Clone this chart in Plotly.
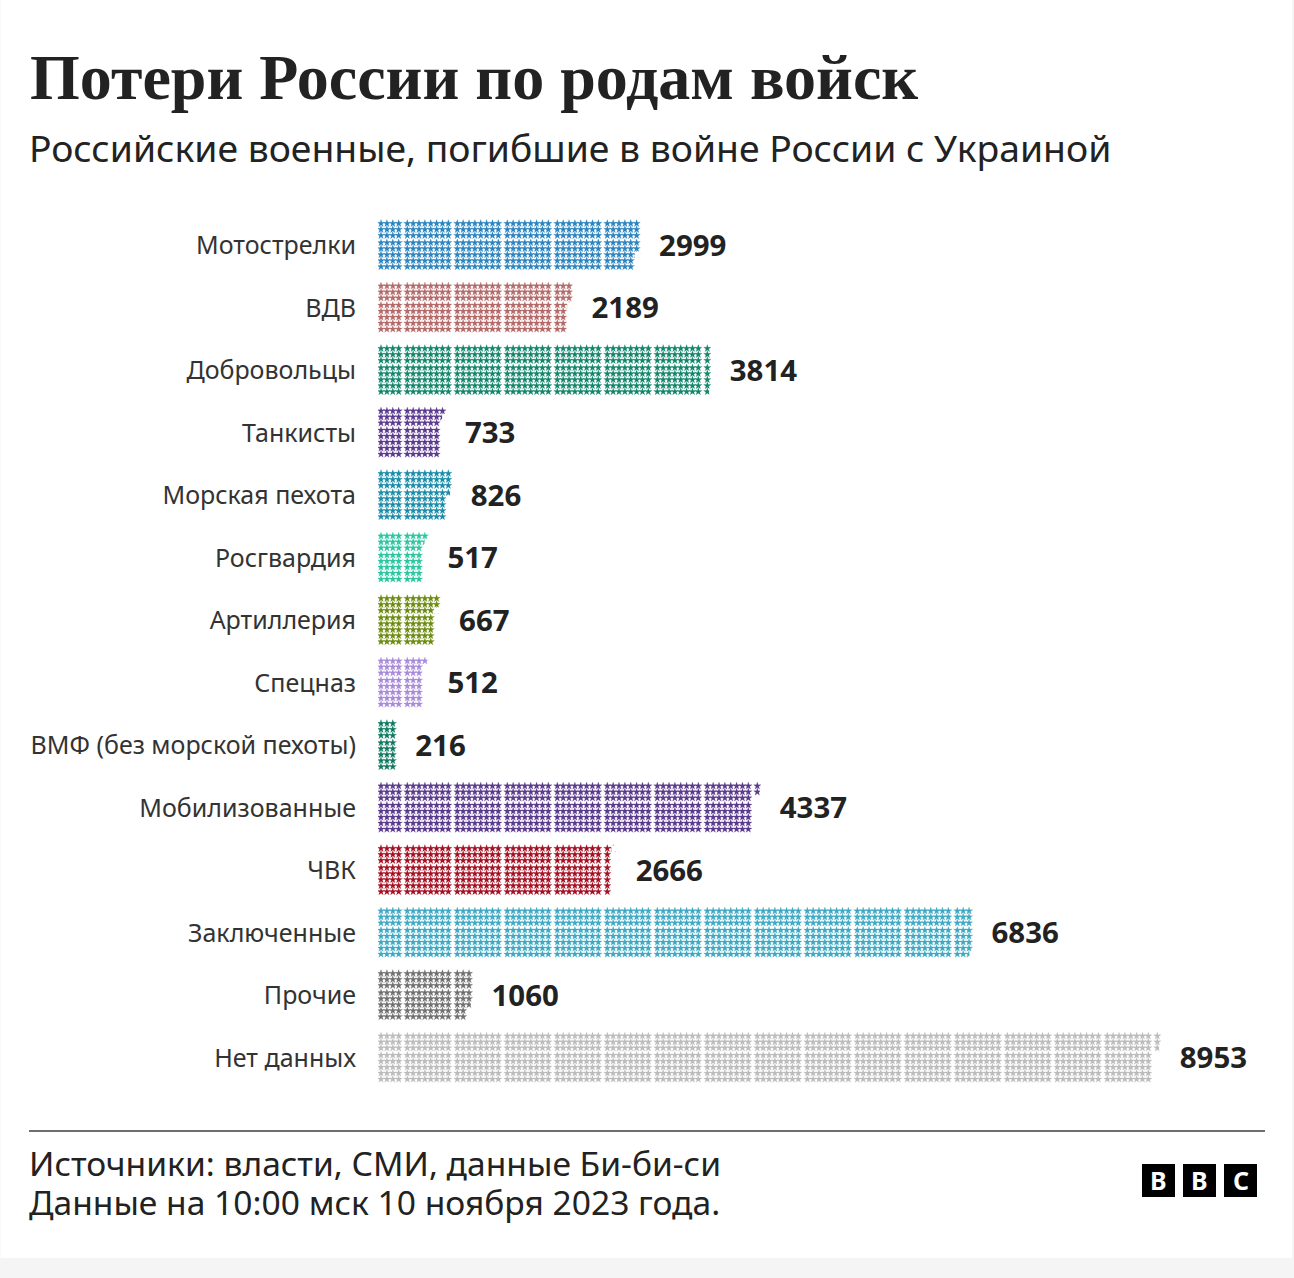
import plotly.graph_objects as go

CATEGORIES = ["Мотострелки", "ВДВ", "Добровольцы", "Танкисты", "Морская пехота", "Росгвардия",
              "Артиллерия", "Спецназ", "ВМФ (без морской пехоты)", "Мобилизованные", "ЧВК",
              "Заключенные", "Прочие", "Нет данных"]
VALUES = [2999, 2189, 3814, 733, 826, 517, 667, 512, 216, 4337, 2666, 6836, 1060, 8953]
COLORS = ["#2b83bf", "#b56a6a", "#12866b", "#5b3a8e", "#1a8ca8", "#2cc5a0", "#6b8a0e",
          "#a98ad9", "#0d7a5f", "#5a3a8c", "#a50f22", "#3fa9c4", "#707070", "#bcbcbc"]
PER_STAR = 9
ROWS = 8

W, H = 1294, 1278
X0 = 378
ROW_OFFSETS = [-22, -16, -10, -2.8, 3.2, 9.2, 15.2, 21.2]
ROW_Y = [245.5 + 62.5 * i for i in range(len(CATEGORIES))]
STAR_W = 6.6


def col_x(c):
    if c < 4:
        return 3 + 5.9 * c
    k = (c - 4) // 8
    j = (c - 4) % 8
    return 29.3 + 50 * k + 5.86 * j


fig = go.Figure()
shapes = [
    dict(type="rect", xref="paper", yref="paper", x0=0.5 / W, x1=1292 / W, y0=1, y1=1 - 1258 / H,
         fillcolor="white", line_width=0, layer="below"),
    dict(type="line", xref="paper", yref="paper", x0=29 / W, x1=1265 / W, y0=1 - 1131 / H, y1=1 - 1131 / H,
         line=dict(color="#6e6e6e", width=2)),
]
for i, (cat, val, col) in enumerate(zip(CATEGORIES, VALUES, COLORS)):
    n = val / PER_STAR
    whole = int(n)
    frac = n - whole
    total = whole + (1 if frac > 0 else 0)
    xs = [col_x(s // ROWS) for s in range(total)]
    ys = [ROW_Y[i] + ROW_OFFSETS[s % ROWS] for s in range(total)]
    fig.add_trace(go.Scatter(x=xs, y=ys, mode="markers", name=cat, showlegend=False, hoverinfo="skip",
                             marker=dict(symbol="star", size=5.6, color=col,
                                         line=dict(width=0.2, color=col))))
    if frac > 0:
        shapes.append(dict(type="rect", xref="x", yref="y", layer="above",
                           x0=xs[-1] - STAR_W / 2 + frac * STAR_W, x1=xs[-1] + STAR_W / 2 + 0.5,
                           y0=ys[-1] - 3, y1=ys[-1] + 3, fillcolor="white", line_width=0))
    end = max(xs) + 3
    fig.add_trace(go.Scatter(x=[end + 19.5], y=[ROW_Y[i] + 3], mode="text", text=[str(val)], showlegend=False,
                             textposition="middle right", hoverinfo="skip",
                             textfont=dict(family="Noto Sans", size=29.4, color="#222222", weight="bold")))

for left, letter in zip([1142, 1183, 1224], "BBC"):
    shapes.append(dict(type="rect", xref="paper", yref="paper", x0=left / W, x1=(left + 33) / W,
                       y0=1 - 1164 / H, y1=1 - 1197 / H, fillcolor="#000000", line_width=0))


def label(text, x, y, size, family="Noto Sans", color="#222222", bold=False, anchor="left"):
    return dict(text=f"<b>{text}</b>" if bold else text, xref="paper", yref="paper", x=x / W, y=1 - y / H,
                showarrow=False, xanchor=anchor, yanchor="middle", align="left",
                font=dict(family=family, size=size, color=color))


FOOTER_LINES = ["Источники: власти, СМИ, данные Би-би-си", "Данные на 10:00 мск 10 ноября 2023 года."]
footer_text = "<br>".join(f'<span style="font-size:33.6px">{t}</span>' for t in FOOTER_LINES)

annotations = [
    label("Потери России по родам войск", 28, 78, 64, "Liberation Serif", bold=True),
    label("Российские военные, погибшие в войне России с Украиной", 27, 147, 37.3),
    label(footer_text, 26.5, 1182.5, 30),
]
for left, letter in zip([1142, 1183, 1224], "BBC"):
    annotations.append(label(letter, left + 16.5, 1180, 25, color="white", bold=True, anchor="center"))

fig.update_layout(
    width=W, height=H, margin=dict(l=0, r=0, t=0, b=0), paper_bgcolor="#f5f5f5", plot_bgcolor="rgba(0,0,0,0)",
    showlegend=False, shapes=shapes, annotations=annotations,
    xaxis=dict(domain=[X0 / W, 1], range=[0, W - X0], visible=False, fixedrange=True),
    yaxis=dict(domain=[0, 1], range=[H, 0], tickmode="array", tickvals=ROW_Y, ticktext=CATEGORIES,
               showgrid=False, zeroline=False, showline=False, ticks="outside", ticklen=16,
               tickcolor="rgba(0,0,0,0)", tickfont=dict(family="Noto Sans", size=25, color="#333333"),
               fixedrange=True, anchor="x"),
)
fig.write_html("out.html", config={"displayModeBar": False},
               post_script="document.body.style.margin='0';document.body.style.overflow='hidden';")
